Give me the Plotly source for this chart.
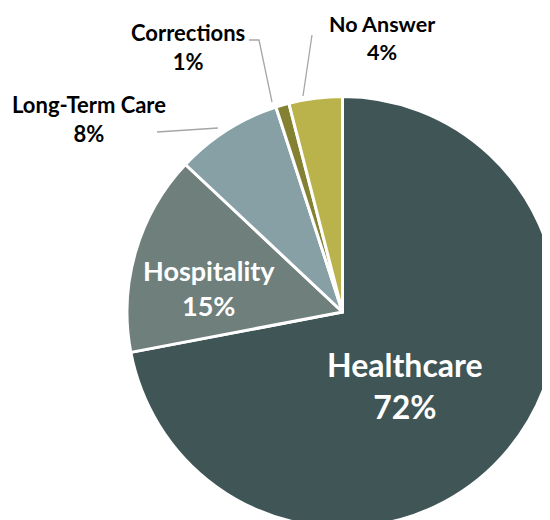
import plotly.graph_objects as go

sectors = ["Healthcare", "Hospitality", "Long-Term Care", "Corrections", "No Answer"]
shares = [72, 15, 8, 1, 4]
colors = ["#3F5556", "#6F7F7C", "#87A0A6", "#858133", "#BAB24B"]

W, H = 550, 520
OFF = 8  # page body margin shifts the figure on screen

# label placement (screen pixel centre of the two-line block) and style
label_pos = {
    "Healthcare": (405, 385, 32, "white"),
    "Hospitality": (209, 288, 27, "white"),
    "Long-Term Care": (89, 119, 22, "black"),
    "Corrections": (188, 47, 22, "black"),
    "No Answer": (382, 38, 21.5, "black"),
}

# leader lines in screen pixels
leaders = [
    [(157, 132), (218, 128)],
    [(249, 40), (259, 40), (272, 102)],
    [(312, 35), (303, 96)],
]


def px(x, y):
    return (x - OFF) / W, 1 - (y - OFF) / H


fig = go.Figure()

# pie: screen centre about (343, 312), radius about 216
cx, cy, r = 343 - OFF, 312 - OFF, 216
fig.add_trace(
    go.Pie(
        labels=sectors,
        values=shares,
        sort=False,
        direction="clockwise",
        rotation=0,
        textinfo="none",
        hoverinfo="label+percent",
        marker=dict(colors=colors, line=dict(color="white", width=3)),
        domain=dict(x=[(cx - r) / W, min(1, (cx + r) / W)],
                    y=[max(0, (H - cy - r) / H), (H - cy + r) / H]),
        showlegend=False,
    )
)

for name, val in zip(sectors, shares):
    lx, ly, size, col = label_pos[name]
    x, y = px(lx, ly)
    fig.add_annotation(
        x=x, y=y, xref="paper", yref="paper",
        xanchor="center", yanchor="middle",
        text=f"<b>{name}</b><br><b>{val}%</b>",
        showarrow=False,
        font=dict(family="Lato", size=size, color=col),
        align="center",
    )

for pts in leaders:
    path = "M " + " L ".join(f"{px(a, b)[0]},{px(a, b)[1]}" for a, b in pts)
    fig.add_shape(
        type="path", path=path, xref="paper", yref="paper",
        line=dict(color="#A6A6A6", width=1.3),
    )

fig.update_layout(
    width=W,
    height=H,
    margin=dict(l=0, r=0, t=0, b=0),
    paper_bgcolor="white",
    plot_bgcolor="white",
)

fig.write_html("out.html")
